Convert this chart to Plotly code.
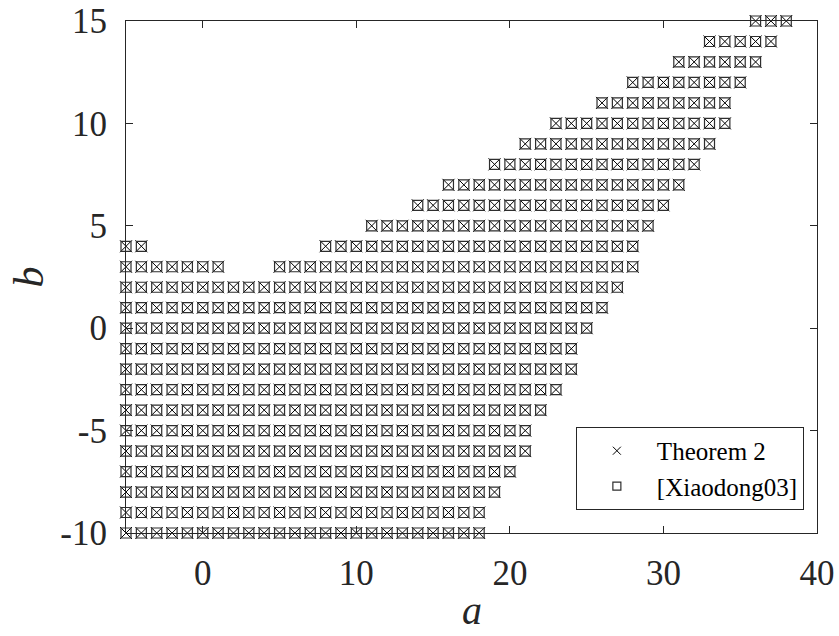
import plotly.graph_objects as go

# Each row segment: b value, first a, last a (integer grid points covered)
seg_b = [15, 14, 13, 12, 11, 10, 9, 8, 7, 6, 5, 4, 4, 3, 3, 2, 1, 0,
         -1, -2, -3, -4, -5, -6, -7, -8, -9, -10]
seg_a_first = [36, 33, 31, 28, 26, 23, 21, 19, 16, 14, 11, -5, 8, -5, 5, -5, -5, -5,
               -5, -5, -5, -5, -5, -5, -5, -5, -5, -5]
seg_a_last = [38, 37, 36, 35, 34, 34, 33, 32, 31, 30, 29, -4, 28, 1, 28, 27, 26, 25,
              24, 24, 23, 22, 21, 21, 20, 19, 18, 18]

series_names = ["Theorem 2", "[Xiaodong03]"]
x_tickvals = [0, 10, 20, 30, 40]
x_ticktext = ["0", "10", "20", "30", "40"]
y_tickvals = [-10, -5, 0, 5, 10, 15]
y_ticktext = ["-10", "-5", "0", "5", "10", "15"]

pts_a, pts_b = [], []
for b, a0, a1 in zip(seg_b, seg_a_first, seg_a_last):
    for a in range(a0, a1 + 1):
        pts_a.append(a)
        pts_b.append(b)

FONT = "Liberation Serif"
W, H = 839, 636
ML, MR, MT, MB = 126, 22, 21, 103
PLOT_H = H - MT - MB

x_style = dict(symbol="x-thin-open", color="black", line=dict(color="black", width=1))
sq_style = dict(symbol="square-open", color="#2e2e2e", line=dict(color="#2e2e2e", width=1.2))

fig = go.Figure()
# data marks
fig.add_trace(go.Scatter(x=pts_a, y=pts_b, mode="markers", name=series_names[0],
                         marker=dict(size=12, **x_style), cliponaxis=False,
                         showlegend=False, legendgroup="t2"))
fig.add_trace(go.Scatter(x=pts_a, y=pts_b, mode="markers", name=series_names[1],
                         marker=dict(size=10, **sq_style), cliponaxis=False,
                         showlegend=False, legendgroup="x03"))
# legend entries (smaller symbols, as in the reference legend)
fig.add_trace(go.Scatter(x=[None], y=[None], mode="markers", name=series_names[0],
                         marker=dict(size=8, **x_style), legendgroup="t2"))
fig.add_trace(go.Scatter(x=[None], y=[None], mode="markers", name=series_names[1],
                         marker=dict(size=8, **sq_style), legendgroup="x03"))

axis_common = dict(
    showgrid=False, zeroline=False, showline=True, linecolor="#262626",
    linewidth=1, mirror="ticks", ticks="inside", ticklen=7, tickwidth=1,
    tickcolor="#262626", tickfont=dict(family=FONT, size=35, color="#262626"),
    automargin=False, ticklabeloverflow="allow",
)

fig.update_layout(
    width=W, height=H,
    margin=dict(l=ML, r=MR, t=MT, b=MB),
    paper_bgcolor="white", plot_bgcolor="white",
    xaxis=dict(range=[-5, 40], tickmode="array", tickvals=x_tickvals,
               ticktext=x_ticktext, ticklabelstandoff=9,
               **axis_common),
    yaxis=dict(range=[-10, 15], tickmode="array", tickvals=y_tickvals,
               ticktext=y_ticktext, ticklabelstandoff=11,
               title=dict(text="<i>b</i>", font=dict(family=FONT, size=42, color="#262626"),
                          standoff=3),
               **axis_common),
    legend=dict(x=0.981, xanchor="right", y=0.045, yanchor="bottom",
                bgcolor="white", bordercolor="#262626", borderwidth=1,
                font=dict(family=FONT, size=25, color="black"),
                tracegroupgap=0, itemwidth=70, groupclick="togglegroup"),
    showlegend=True,
    annotations=[dict(
        text="<i>a</i>", xref="paper", yref="paper", x=0.5, xanchor="center",
        y=-(610 - (H - MB)) / PLOT_H, yanchor="middle", showarrow=False,
        font=dict(family=FONT, size=40, color="#262626"),
    )],
)

fig.write_html("out.html")
